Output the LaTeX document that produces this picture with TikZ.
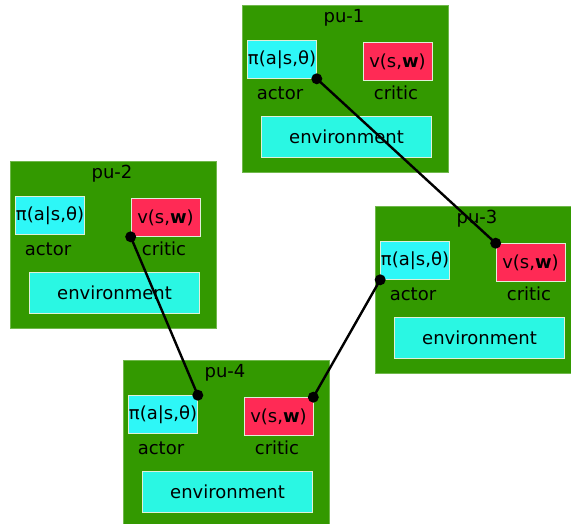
\documentclass[tikz,border=0pt]{standalone}
\usepackage{fontspec}
\setmainfont{DejaVu Sans}
\usetikzlibrary{calc}
\definecolor{pugreen}{HTML}{339900}
\definecolor{actorcyan}{HTML}{2EF7F7}
\definecolor{envcyan}{HTML}{2AF7E3}
\definecolor{criticred}{HTML}{FF2A55}
\tikzset{
  greenbox/.style={fill=pugreen, draw=pugreen!70!white, line width=0.4pt, inner sep=0pt, minimum width=206pt, minimum height=167pt, anchor=north west},
  actorbox/.style={fill=actorcyan, draw=white!85!pugreen, line width=0.6pt, inner sep=0pt, minimum width=69pt, minimum height=38pt},
  criticbox/.style={fill=criticred, draw=white!85!pugreen, line width=0.6pt, inner sep=0pt, minimum width=69pt, minimum height=38pt},
  envbox/.style={fill=envcyan, draw=white!85!pugreen, line width=0.6pt, inner sep=0pt, minimum width=170pt, minimum height=41pt},
  txt/.style={inner sep=0pt, font=\fontsize{18}{21}\selectfont, text=black},
  link/.style={line width=2.4pt, black},
  dot/.style={circle, fill=black, inner sep=0pt, minimum size=11pt},
}
\newcommand\mkpu[4]{%
  \begin{scope}[shift={(#2,#3)}]
    \node[greenbox] (#1) at (0,0) {};
    \node[txt] (#1t) at (102,13) {#4};
    \node[actorbox] (#1a) at (40,54.5) {};
    \node[txt] (#1at) at (#1a.center) {π(a|s,θ)};
    \node[txt] (#1al) at (38,88) {actor};
    \node[criticbox] (#1c) at (155.5,56.5) {};
    \node[txt] (#1ct) at (#1c.center) {v(s,\textbf{w})};
    \node[txt] (#1cl) at (154,88) {critic};
    \node[envbox] (#1e) at (104.5,131.5) {};
    \node[txt] (#1et) at (#1e.center) {environment};
  \end{scope}}
\begin{document}
\begin{tikzpicture}[x=1pt,y=-1pt]
\useasboundingbox (0,0) rectangle (571,524);
\clip (0,0) rectangle (571,524);
\fill[white] (0,0) rectangle (571,524);
\mkpu{pua}{242}{5}{pu-1}
\mkpu{pub}{10}{161}{pu-2}
\mkpu{puc}{375}{206}{pu-3}
\mkpu{pud}{123}{360}{pu-4}
\draw[link] (puaa.south east) -- (pucc.north west);
\draw[link] (pubc.south west) -- (puda.north east);
\draw[link] (puca.south west) -- (pudc.north east);
\foreach \p in {puaa.south east, pucc.north west, pubc.south west, puda.north east, puca.south west, pudc.north east}
  \node[dot] at (\p) {};
\end{tikzpicture}
\end{document}
